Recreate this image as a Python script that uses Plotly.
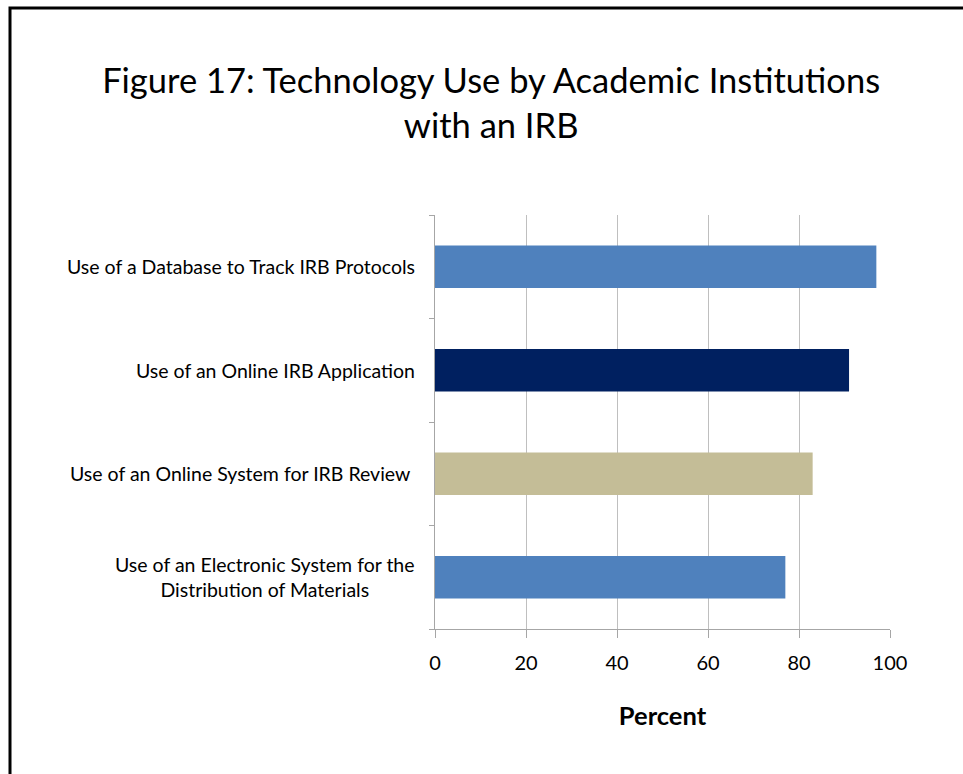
import plotly.graph_objects as go

categories = [
    "Use of a Database to Track IRB Protocols",
    "Use of an Online IRB Application",
    "Use of an Online System for IRB Review",
    "Use of an Electronic System for the<br>Distribution of Materials",
]
values = [97, 91, 83, 77]
bar_colors = ["#4F81BD", "#002060", "#C4BD97", "#4F81BD"]
x_ticks = [0, 20, 40, 60, 80, 100]

FONT = "Lato"

fig = go.Figure()
fig.add_trace(go.Bar(
    x=values,
    y=list(range(len(categories))),
    orientation="h",
    marker=dict(color=bar_colors, line=dict(width=0)),
    width=0.41,
    hoverinfo="x",
))

label_shift = [-18, -18, -23, -18]
annotations = []
for i, c in enumerate(categories):
    annotations.append(dict(
        x=0, xref="paper", xanchor="right", xshift=label_shift[i],
        y=i, yref="y", yanchor="middle",
        text=c, showarrow=False, align="center",
        font=dict(family=FONT, size=19.5, color="black"),
    ))

fig.update_layout(
    width=963, height=774,
    paper_bgcolor="white", plot_bgcolor="white",
    margin=dict(l=435, r=73, t=215, b=145),
    showlegend=False,
    title=dict(
        text="Figure 17: Technology Use by Academic Institutions<br>with an IRB",
        x=0.51, xanchor="center", xref="container",
        y=1 - 93 / 774, yanchor="top", yref="container",
        font=dict(family=FONT, size=34.5, color="black"),
    ),
    xaxis=dict(
        range=[0, 100], tickvals=x_ticks, ticktext=[str(t) for t in x_ticks],
        showgrid=True, gridcolor="#BFBFBF", gridwidth=1.3,
        showline=True, linecolor="#A6A6A6", linewidth=1,
        ticks="outside", ticklen=8, tickcolor="#A6A6A6",
        ticklabelstandoff=8,
        zeroline=False,
        tickfont=dict(family=FONT, size=20, color="black"),
        title=dict(text="<b>Percent</b>", standoff=34,
                   font=dict(family=FONT, size=25.5, color="black")),
        fixedrange=True,
    ),
    yaxis=dict(
        range=[3.5, -0.5], tickvals=[0.5, 1.5, 2.5, -0.5, 3.5],
        showticklabels=False,
        showgrid=False, zeroline=False,
        showline=True, linecolor="#A6A6A6", linewidth=1,
        ticks="outside", ticklen=5, tickcolor="#A6A6A6",
        fixedrange=True,
    ),
    annotations=annotations,
    shapes=[dict(
        type="rect", xref="paper", yref="paper",
        x0=(10 - 435) / 455, x1=(975 - 435) / 455,
        y0=(629 - 785) / 414, y1=(629 - 8) / 414,
        line=dict(color="black", width=3), fillcolor="rgba(0,0,0,0)",
        layer="above",
    )],
)

fig.write_html("out.html", config={"displayModeBar": False},
               post_script="document.body.style.margin='0px';")
